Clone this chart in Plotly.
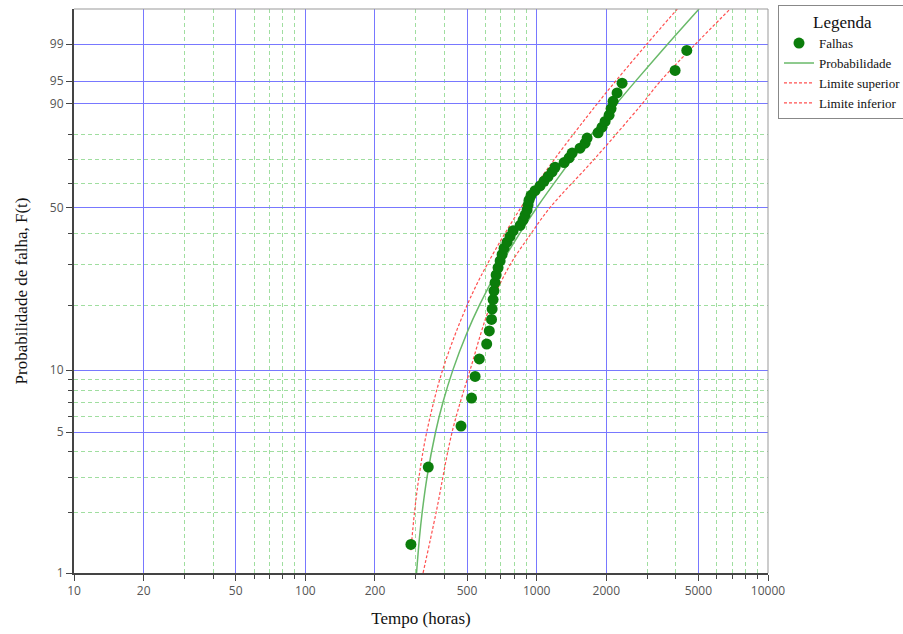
import numpy as np
import plotly.graph_objects as go

# ---------------- data ----------------
fail_times = [286, 340, 471, 523, 542, 565, 608, 624, 638, 642,
              648, 654, 661, 668, 681, 695, 709, 723, 745, 767,
              791, 848, 873, 891, 909, 918, 927, 946, 984, 1034,
              1076, 1120, 1166, 1201, 1314, 1381, 1423, 1540, 1619, 1652,
              1843, 1917, 1976, 2056, 2097, 2139, 2226, 2340, 3967, 4456]
fail_prob_pct = [1.39, 3.37, 5.36, 7.34, 9.33, 11.31, 13.29, 15.28, 17.26, 19.25,
                 21.23, 23.21, 25.20, 27.18, 29.17, 31.15, 33.13, 35.12, 37.10, 39.09,
                 41.07, 43.06, 45.04, 47.02, 49.01, 50.99, 52.98, 54.96, 56.94, 58.93,
                 60.91, 62.90, 64.88, 66.87, 68.85, 70.83, 72.82, 74.80, 76.79, 78.77,
                 80.75, 82.74, 84.72, 86.71, 88.69, 90.67, 92.66, 94.64, 96.63, 98.61]

fit_prob_pct = [1, 1.5, 2, 3, 5, 7, 10, 15, 20, 30, 40, 50, 63.2, 70, 80, 90, 95, 99, 99.9]
fit_times = [302.5, 311.4, 319.8, 335.7, 365.4, 393.5, 434.1, 499.9, 565.1, 698.8,
             842.2, 1002, 1255, 1415, 1720, 2212, 2676, 3689, 5033]

upper_prob_pct = [1.3, 2, 3, 5, 10, 20, 30, 50, 70, 90, 95, 99, 99.9]
upper_times = [286, 296.3, 309.8, 334.7, 392, 500, 609.5, 855.8, 1188.9, 1825.6, 2195, 2996.6, 4053.8]

lower_prob_pct = [1, 2, 5, 10, 20, 30, 40, 50, 70, 90, 95, 99, 99.9]
lower_times = [322.8, 367.4, 430.8, 515.3, 631, 767.4, 944, 1143, 1764, 2856, 3426, 4864, 6858]

x_major_ticks = [10, 20, 50, 100, 200, 500, 1000, 2000, 5000, 10000]
x_minor_ticks = [30, 40, 60, 70, 80, 90, 300, 400, 600, 700, 800, 900,
                 3000, 4000, 6000, 7000, 8000, 9000]
y_major_pct = [1, 5, 10, 50, 90, 95, 99]
y_major_text = ["1", "5", "10", "50", "90", "95", "99"]
y_minor_pct = [2, 3, 4, 6, 7, 8, 9, 20, 30, 40, 60, 70, 80]


def wt(p_pct):
    p = np.asarray(p_pct, dtype=float) / 100.0
    return np.log(-np.log(1.0 - p))


BLUE_GRID = "rgb(120,120,255)"
GREEN_GRID = "rgb(160,222,160)"
TICK_FONT = dict(family="Open Sans, DejaVu Sans, sans-serif", size=12, color="#555555")
SERIF = "Liberation Serif, Times New Roman, serif"

fig = go.Figure()

fig.add_trace(go.Scatter(
    x=fit_times, y=wt(fit_prob_pct), mode="lines", name="Probabilidade",
    line=dict(color="rgb(105,185,105)", width=1.5, shape="spline"),
    legendrank=2))
fig.add_trace(go.Scatter(
    x=upper_times, y=wt(upper_prob_pct), mode="lines", name="Limite superior",
    line=dict(color="rgb(255,80,80)", width=1.2, dash="3px,2px", shape="spline"),
    legendrank=3))
fig.add_trace(go.Scatter(
    x=lower_times, y=wt(lower_prob_pct), mode="lines", name="Limite inferior",
    line=dict(color="rgb(255,80,80)", width=1.2, dash="3px,2px", shape="spline"),
    legendrank=4))
fig.add_trace(go.Scatter(
    x=fail_times, y=wt(fail_prob_pct), mode="markers", name="Falhas",
    marker=dict(color="#0b7d0b", size=11, line=dict(width=0)),
    legendrank=1))

fig.update_layout(
    width=903, height=634,
    margin=dict(l=74, r=135, t=9, b=61, autoexpand=False),
    paper_bgcolor="white", plot_bgcolor="white",
    showlegend=True,
    legend=dict(
        x=1.0144, xanchor="left", y=1.007, yanchor="top",
        bordercolor="#888888", borderwidth=1, bgcolor="white",
        font=dict(family=SERIF, size=13, color="#111111"),
        title=dict(text="Legenda", side="top center",
                   font=dict(family=SERIF, size=17, color="#111111")),
        tracegroupgap=0, itemwidth=30,
    ),
)

fig.update_xaxes(
    type="log", range=[1, 4],
    tickmode="array", tickvals=x_major_ticks,
    ticktext=[str(v) for v in x_major_ticks],
    ticks="outside", ticklen=6, tickwidth=1, tickcolor="#444444",
    tickfont=TICK_FONT,
    showgrid=True, gridcolor=BLUE_GRID, gridwidth=1,
    minor=dict(tickmode="array", tickvals=x_minor_ticks, ticks="outside",
               ticklen=4, tickcolor="#444444", showgrid=True,
               gridcolor=GREEN_GRID, griddash="4px,3px", gridwidth=1),
    showline=True, linecolor="#444444", linewidth=2, mirror=False,
    zeroline=False,
    title=dict(text="Tempo (horas)", standoff=14,
               font=dict(family=SERIF, size=17, color="#111111")),
    automargin=False,
)

fig.update_yaxes(
    range=[float(wt(1)), float(wt(99.9))],
    tickmode="array", tickvals=list(wt(y_major_pct)), ticktext=y_major_text,
    ticks="outside", ticklen=6, tickwidth=1, tickcolor="#444444",
    tickfont=TICK_FONT,
    showgrid=True, gridcolor=BLUE_GRID, gridwidth=1,
    minor=dict(tickmode="array", tickvals=list(wt(y_minor_pct)), ticks="outside",
               ticklen=4, tickcolor="#444444", showgrid=True,
               gridcolor=GREEN_GRID, griddash="4px,3px", gridwidth=1),
    showline=True, linecolor="#444444", linewidth=2, mirror=False,
    zeroline=False,
    title=dict(text="Probabilidade de falha, F(t)", standoff=18,
               font=dict(family=SERIF, size=17, color="#111111")),
    automargin=False,
)

# light frame on top and right
fig.add_shape(type="line", xref="paper", yref="paper", x0=0, x1=1, y0=1, y1=1,
              line=dict(color="#999999", width=1), layer="above")
fig.add_shape(type="line", xref="paper", yref="paper", x0=1, x1=1, y0=0, y1=1,
              line=dict(color="#999999", width=1), layer="above")

fig.write_html("out.html")
